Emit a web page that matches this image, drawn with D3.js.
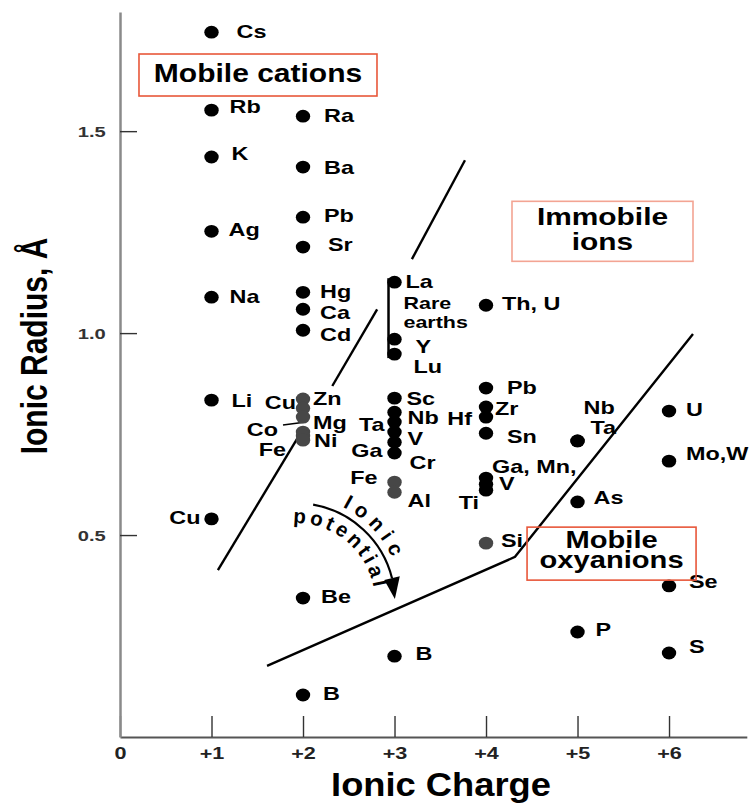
<!DOCTYPE html>
<html>
<head>
<meta charset="utf-8">
<script src="https://cdn.jsdelivr.net/npm/d3@7"></script>
<style>
  body { margin: 0; background: #fff; }
  svg { display: block; font-family: "Liberation Sans", Arial, sans-serif; font-weight: bold; }
</style>
</head>
<body>
<svg></svg>
<script>
/* data */
const ionSymbols = ["Cs","Rb","K","Ag","Na","Li","Cu",
  "Ra","Ba","Pb","Sr","Hg","Ca","Cd","Zn","Cu","Mg","Co","Ni","Fe","Be","B",
  "La","Y","Lu","Sc","Nb","Ta","V","Ga","Cr","Fe","Al","B",
  "Th, U","Pb","Zr","Hf","Sn","Ga, Mn,","V","Ti","Si",
  "Nb","Ta","As","P",
  "U","Mo,W","Se","S"];
const ionCharges = [1,1,1,1,1,1,1,
  2,2,2,2,2,2,2,2,2,2,2,2,2,2,2,
  3,3,3,3,3,3,3,3,3,3,3,3,
  4,4,4,4,4,4,4,4,4,
  5,5,5,5,
  6,6,6,6];
const ionRadii = [1.745,1.552,1.436,1.252,1.089,0.834,0.540,
  1.537,1.411,1.287,1.213,1.101,1.059,1.007,0.837,0.814,0.792,0.755,0.745,0.735,0.344,0.104,
  1.126,0.985,0.948,0.839,0.804,0.780,0.755,0.730,0.703,0.631,0.606,0.200,
  1.069,0.864,0.817,0.792,0.752,0.641,0.626,0.611,0.480,
  0.733,0.733,0.582,0.260,
  0.807,0.683,0.374,0.208];

const chargeTicks = [0,1,2,3,4,5,6];
const radiusTicks = [0.5,1.0,1.5];

// field boundaries as [charge, radius] (visible pieces only)
const cationBoundary = [
  [[1.07,0.413],[1.94,0.74]],
  [[2.32,0.869],[2.81,1.059]],
  [[3.19,1.183],[3.77,1.428]]
];
const oxyanionBoundary = [[1.607,0.176],[4.317,0.446],[6.262,0.998]];

/* basic setup */
const W = 750, H = 809;
const STRETCH = 1.3;   // the original lettering is drawn wide
const svg = d3.select("svg").attr("width", W).attr("height", H);

const x = d3.scaleLinear().domain([0, 6.85]).range([120, 746.8]);
const y = d3.scaleLinear().domain([0, 1.795]).range([737, 12]);

/* axes */
const xAxis = svg.append("g")
  .attr("transform", `translate(0,${y(0)})`)
  .call(d3.axisBottom(x).tickValues(chargeTicks)
    .tickFormat(d => d === 0 ? "0" : "+" + d)
    .tickSize(-21).tickSizeOuter(0).tickPadding(11));
xAxis.select(".domain").attr("stroke", "#555").attr("stroke-width", 2);
xAxis.selectAll(".tick line").attr("stroke", "#333").attr("stroke-width", 1.4);
xAxis.selectAll(".tick text")
  .attr("font-family", "Liberation Sans, Arial, sans-serif")
  .attr("font-size", 16).attr("font-weight", "bold").attr("fill", "#222")
  .attr("transform", `scale(1.35,1)`);

const yAxis = svg.append("g")
  .attr("transform", `translate(${x(0)},0)`)
  .call(d3.axisLeft(y).tickValues(radiusTicks)
    .tickFormat(d3.format(".1f"))
    .tickSize(-17).tickSizeOuter(0).tickPadding(11));
yAxis.select(".domain").attr("stroke", "#8a8a8a").attr("stroke-width", 2.5);
yAxis.selectAll(".tick line").attr("stroke", "#333").attr("stroke-width", 1.4);
yAxis.selectAll(".tick text")
  .attr("font-family", "Liberation Sans, Arial, sans-serif")
  .attr("font-size", 15.5).attr("font-weight", "bold").attr("fill", "#333")
  .attr("transform", `scale(1.3,1)`);

// axis titles
svg.append("text")
  .attr("transform", `translate(441,796) scale(1.1,1)`)
  .attr("text-anchor", "middle").attr("font-size", 33)
  .text("Ionic Charge");
svg.append("text")
  .attr("transform", `translate(47,346) scale(1.25,1) rotate(-90)`)
  .attr("text-anchor", "middle").attr("font-size", 30)
  .text("Ionic Radius, Å");

/* boundary lines */
const line = d3.line().x(d => x(d[0])).y(d => y(d[1]));
svg.selectAll("path.cation-edge")
  .data(cationBoundary)
  .enter().append("path")
  .attr("class", "cation-edge")
  .attr("d", line)
  .attr("fill", "none").attr("stroke", "#000").attr("stroke-width", 2.4);
svg.append("path")
  .attr("d", line(oxyanionBoundary))
  .attr("fill", "none").attr("stroke", "#000").attr("stroke-width", 2.4);

/* ions */
const ions = ionSymbols.map((s, i) => ({
  symbol: s, charge: ionCharges[i], radius: ionRadii[i], key: s + ionCharges[i]
}));

const greyIons = new Set(["Zn2","Cu2","Mg2","Co2","Ni2","Fe2","Fe3","Al3","Si4"]);

// label offsets from dot centre: [dx, dy(baseline), anchor]
const labelPlace = {
  "Cs1":[25,5.5], "Rb1":[18,2.5], "K1":[20,2.5], "Ag1":[17,4.5], "Na1":[18,5.5], "Li1":[20,6.5], "Cu1":[-11,5.5,"end"],
  "Ra2":[21,5.5], "Ba2":[21,6.5], "Pb2":[21,4.5], "Sr2":[25,3.5], "Hg2":[17,5.5], "Ca2":[17,9.5], "Cd2":[17,11],
  "Zn2":[10,6.5], "Cu2":[-7,0.5,"end"], "Mg2":[10,11.5], "Co2":[-25,3.5,"end"], "Ni2":[11,10.5], "Fe2":[-17,15.5,"end"],
  "Be2":[18,4.5], "B2":[20,5.5],
  "La3":[11,5.5], "Y3":[21,13.5], "Lu3":[19,18.5], "Sc3":[12,6.5], "Nb3":[13,11.5], "Ta3":[-10,9.5,"end"],
  "V3":[13,12.5], "Ga3":[-12,14.5,"end"], "Cr3":[15,15.5], "Fe3":[-17,1.5,"end"], "Al3":[13,14.5], "B3":[21,3.5],
  "Th, U4":[16,4.5], "Pb4":[21,5.5], "Zr4":[9,7.5], "Hf4":[-14,7.5,"end"], "Sn4":[21,9.5],
  "Ga, Mn,4":[6,-5.5], "V4":[13,5.5], "Ti4":[-7,18.5,"end"], "Si4":[15,3.5],
  "Nb5":[6,-26.5], "Ta5":[13,-6.5], "As5":[16,2.5], "P5":[18,4.5],
  "U6":[17,4.5], "Mo,W6":[17,-1.5], "Se6":[20,2.5], "S6":[20,0.5]
};

// rare-earth bracket, La to Lu
const la = ions.find(d => d.key === "La3"), lu = ions.find(d => d.key === "Lu3");
svg.append("line")
  .attr("x1", x(3) - 6).attr("x2", x(3) - 6)
  .attr("y1", y(la.radius) - 4).attr("y2", y(lu.radius) + 4)
  .attr("stroke", "#000").attr("stroke-width", 2.5);

// Co leader line
const co = ions.find(d => d.key === "Co2");
svg.append("line")
  .attr("x1", x(co.charge) - 20).attr("y1", y(co.radius) - 7)
  .attr("x2", x(co.charge) + 3).attr("y2", y(co.radius) - 10)
  .attr("stroke", "#000").attr("stroke-width", 1.6);

svg.selectAll("ellipse.ion")
  .data(ions)
  .enter().append("ellipse")
  .attr("class", "ion")
  .attr("cx", d => x(d.charge))
  .attr("cy", d => y(d.radius))
  .attr("rx", 7.2).attr("ry", 6.4)
  .attr("fill", d => greyIons.has(d.key) ? "#474747" : "#000");

svg.selectAll("text.ion-label")
  .data(ions)
  .enter().append("text")
  .attr("class", "ion-label")
  .attr("transform", d => {
    const p = labelPlace[d.key] || [18, 6];
    return `translate(${x(d.charge) + p[0]},${y(d.radius) + p[1]}) scale(${STRETCH},1)`;
  })
  .attr("text-anchor", d => (labelPlace[d.key] || [])[2] || "start")
  .attr("font-size", 18)
  .text(d => d.symbol);

// "Rare earths"
svg.append("text")
  .attr("transform", `translate(${x(3) + 9},${y(la.radius)})`)
  .attr("font-size", 16.5)
  .selectAll("tspan")
  .data(["Rare", "earths"])
  .enter().append("tspan")
  .attr("x", 0).attr("y", (d, i) => 27 + i * 19)
  .text(d => d);
svg.selectAll("tspan").each(function() {
  // widen the tspans like the other lettering
  d3.select(this.parentNode).attr("transform",
    `translate(${x(3) + 9},${y(la.radius)}) scale(${STRETCH},1)`);
});

/* ionic potential arrow */
const cx = x(1.923), cy = y(0.334), r = 99;
const rad = a => a * Math.PI / 180;
const arcPath = d3.path();
arcPath.arc(cx, cy, r, rad(-80), rad(-14), false);
svg.append("path").attr("d", arcPath.toString())
  .attr("fill", "none").attr("stroke", "#000").attr("stroke-width", 2.2);
{
  const b = rad(-14), t = rad(-2.3);
  const bx = cx + r * Math.cos(b), by = cy + r * Math.sin(b);
  const ux = Math.cos(b), uy = Math.sin(b);
  const tip = [cx + r * Math.cos(t), cy + r * Math.sin(t) + 1];
  svg.append("path")
    .attr("d", `M${bx + 8 * ux},${by + 8 * uy}L${tip[0]},${tip[1]}L${bx - 8 * ux},${by - 8 * uy}Z`)
    .attr("fill", "#000");
}
const defs = svg.append("defs");
const outer = d3.path(); outer.arc(cx, cy, 106, rad(-64), rad(0), false);
const inner = d3.path(); inner.arc(cx, cy, 79, rad(-92), rad(0), false);
defs.append("path").attr("id", "arcOuter").attr("d", outer.toString());
defs.append("path").attr("id", "arcInner").attr("d", inner.toString());
svg.append("text").attr("font-size", 20.5).attr("letter-spacing", 6)
  .append("textPath").attr("href", "#arcOuter").text("Ionic");
svg.append("text").attr("font-size", 20.5).attr("letter-spacing", 3.3)
  .append("textPath").attr("href", "#arcInner").text("potential");

/* region boxes */
const regionBoxes = [
  { lines: ["Mobile cations"], cx: 1.508, cy: 1.639, w: 238, h: 42, stroke: "#e8573a", size: 25, base: 7, gap: 0, sx: 1.2 },
  { lines: ["Immobile", "ions"], cx: 5.273, cy: 1.252, w: 181, h: 60, stroke: "#f3a493", size: 23, base: -6, gap: 25, sx: 1.3 },
  { lines: ["Mobile", "oxyanions"], cx: 5.372, cy: 0.454, w: 169, h: 53, stroke: "#e8573a", size: 23.5, base: -6, gap: 20.5, sx: 1.24 }
];
const boxes = svg.selectAll("g.region")
  .data(regionBoxes)
  .enter().append("g")
  .attr("class", "region")
  .attr("transform", d => `translate(${x(d.cx)},${y(d.cy)})`);
boxes.append("rect")
  .attr("x", d => -d.w / 2).attr("y", d => -d.h / 2)
  .attr("width", d => d.w).attr("height", d => d.h)
  .attr("fill", "none").attr("stroke", d => d.stroke).attr("stroke-width", 1.6);
boxes.each(function(d) {
  d3.select(this).selectAll("text")
    .data(d.lines)
    .enter().append("text")
    .attr("transform", (t, i) => `translate(0,${d.base + i * d.gap}) scale(${d.sx},1)`)
    .attr("text-anchor", "middle")
    .attr("font-size", d.size)
    .text(t => t);
});
</script>
</body>
</html>
